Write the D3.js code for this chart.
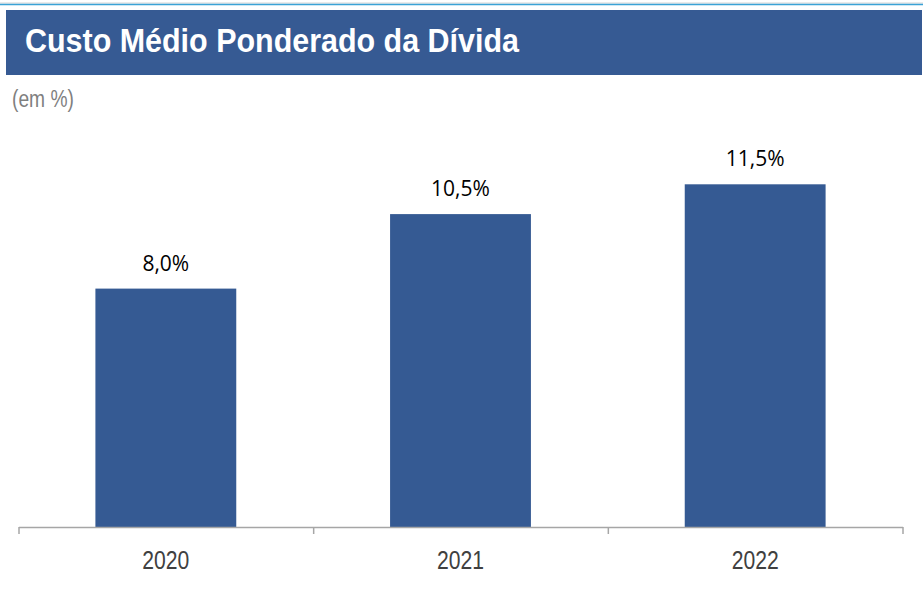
<!DOCTYPE html>
<html lang="pt">
<head>
<meta charset="UTF-8">
<title>Custo Médio Ponderado da Dívida</title>
<script src="https://d3js.org/d3.v7.min.js"></script>
<style>
    body{ margin:0; background:#fff; }
    svg{ display:block; }
    .title{ font-family:"Liberation Sans", Arial, sans-serif; font-weight:bold; font-size:33px; fill:#fff; }
    .unit{ font-family:"Liberation Sans", Arial, sans-serif; font-size:23px; fill:#7f7f7f; }
    .cat{ font-family:"Liberation Sans", Arial, sans-serif; font-size:26px; fill:#404040; }
    .val{ font-family:"Open Sans", "Noto Sans", sans-serif; font-size:21px; fill:#000; }
</style>
</head>
<body>
<svg id="canvas" width="923" height="606"></svg>
<script>
    let years = ["2020", "2021", "2022"]
    let costs = [8.0, 10.5, 11.5]
    let labels = ["8,0%", "10,5%", "11,5%"]
    let titleText = "Custo Médio Ponderado da Dívida"
    let unitText = "(em %)"

    let barColor = "#355a93"
    let axisColor = "#a6a6a6"

    let svg = d3.select('#canvas')

    // top rule + title banner
    svg.append('line').attr('x1', 0).attr('x2', 923).attr('y1', 3).attr('y2', 3)
        .attr('stroke', '#d4d4d4').attr('stroke-width', 1)
    svg.append('line').attr('x1', 0).attr('x2', 923).attr('y1', 4.5).attr('y2', 4.5)
        .attr('stroke', '#3aa2d6').attr('stroke-width', 1.5)
    svg.append('rect').attr('x', 6).attr('y', 10).attr('width', 916).attr('height', 65)
        .attr('fill', '#365a93')
    svg.append('text').attr('class', 'title').attr('x', 25).attr('y', 52)
        .attr('textLength', 494).attr('lengthAdjust', 'spacingAndGlyphs')
        .text(titleText)
    svg.append('text').attr('class', 'unit').attr('x', 12).attr('y', 107)
        .attr('textLength', 62).attr('lengthAdjust', 'spacingAndGlyphs')
        .text(unitText)

    // scales
    let x0 = 18.5, x1 = 902.5, base = 527
    let xScale = d3.scaleBand().domain(years).range([x0, x1]).padding(0)
    let yScale = d3.scaleLinear().domain([0, 14]).range([base, base - 14 * 29.8])
    let barW = xScale.bandwidth() * 0.478

    let chart = svg.append('g')

    chart.selectAll('rect.bar')
        .data(costs)
        .enter()
        .append('rect')
        .attr('class', 'bar')
        .attr('x', (d, i) => xScale(years[i]) + (xScale.bandwidth() - barW) / 2)
        .attr('y', d => yScale(d))
        .attr('width', barW)
        .attr('height', d => yScale(0) - yScale(d))
        .attr('fill', barColor)

    chart.selectAll('text.val')
        .data(costs)
        .enter()
        .append('text')
        .attr('class', 'val')
        .attr('text-anchor', 'middle')
        .attr('x', (d, i) => xScale(years[i]) + xScale.bandwidth() / 2)
        .attr('y', d => yScale(d) - 18)
        .text((d, i) => labels[i])

    // category axis with ticks between categories
    let edges = d3.scaleLinear().domain([0, years.length]).range([x0, x1])
    let axis = d3.axisBottom(edges)
        .tickValues(d3.range(years.length + 1))
        .tickSize(7).tickSizeOuter(0).tickFormat("")
    let gAxis = svg.append('g').attr('transform', `translate(0,${base})`).call(axis)
    gAxis.select('.domain').attr('stroke', axisColor).attr('stroke-width', 1.5)
    gAxis.selectAll('.tick line').attr('stroke', axisColor).attr('stroke-width', 1.5)

    svg.selectAll('text.cat')
        .data(years)
        .enter()
        .append('text')
        .attr('class', 'cat')
        .attr('text-anchor', 'middle')
        .attr('x', d => xScale(d) + xScale.bandwidth() / 2)
        .attr('y', 569)
        .attr('textLength', 47).attr('lengthAdjust', 'spacingAndGlyphs')
        .text(d => d)
</script>
</body>
</html>
